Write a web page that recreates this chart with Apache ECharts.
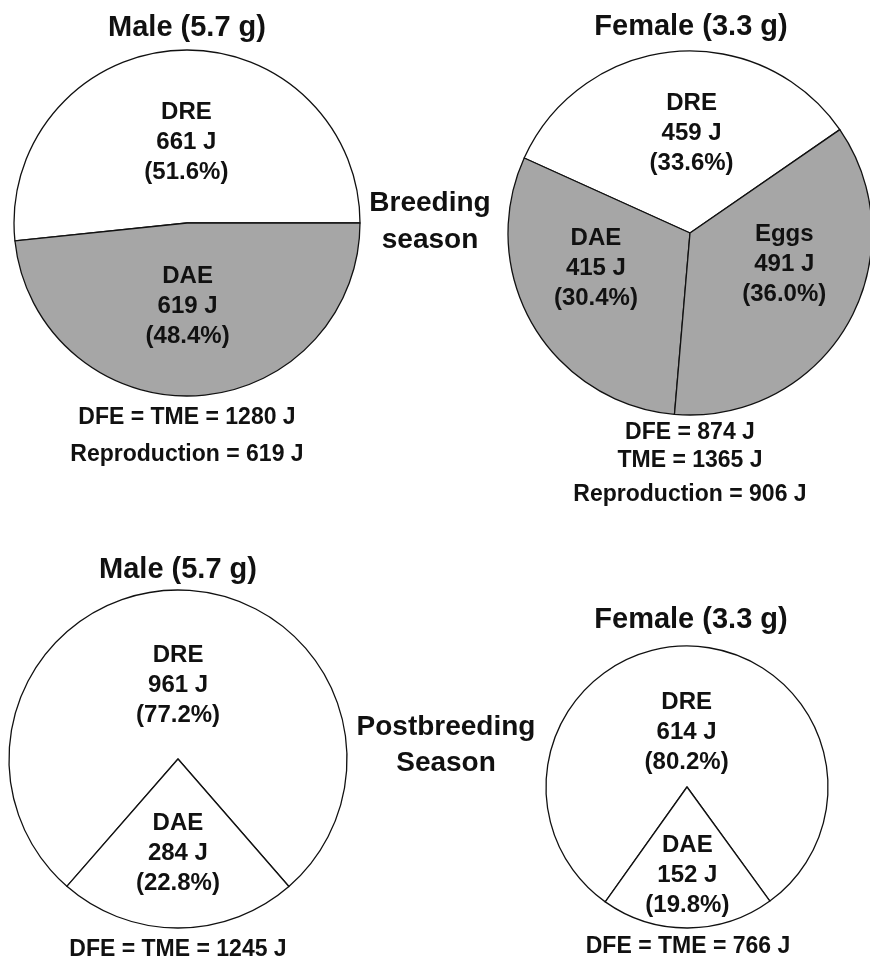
<!DOCTYPE html>
<html>
<head>
<meta charset="utf-8">
<style>
    html, body { margin: 0; padding: 0; background: #fff; }
    #chart { width: 870px; height: 959px; }
</style>
</head>
<body>
<div id="chart"></div>
<script src="https://cdn.jsdelivr.net/npm/echarts@6/dist/echarts.min.js"></script>
<script type="text/javascript">
    // energy budgets (J)
    const maleCats = ['DRE', 'DAE'];
    const femaleBreedCats = ['DRE', 'DAE', 'Eggs'];
    const maleBreeding = [661, 619];
    const femaleBreeding = [459, 415, 491];
    const malePost = [961, 284];
    const femalePost = [614, 152];

    const titles = ['Male (5.7 g)', 'Female (3.3 g)', 'Male (5.7 g)', 'Female (3.3 g)'];
    const maleBreedNotes = ['DFE = TME = 1280 J', 'Reproduction = 619 J'];
    const femaleBreedNotes = ['DFE = 874 J', 'TME = 1365 J', 'Reproduction = 906 J'];
    const malePostNotes = ['DFE = TME = 1245 J'];
    const femalePostNotes = ['DFE = TME = 766 J'];
    const seasonLabels = [['Breeding', 'season'], ['Postbreeding', 'Season']];

    const FONT = '"Liberation Sans", Arial, sans-serif';
    const GRAY = '#a6a6a6';

    const chart = echarts.init(document.getElementById('chart'), null, { renderer: 'canvas' });

    function pieSeries(cats, values, center, radius, startAngle, fills, nudges) {
        return {
            type: 'pie',
            center: center,
            radius: radius,
            startAngle: startAngle,
            clockwise: false,
            silent: true,
            animation: false,
            percentPrecision: 1,
            data: cats.map((c, i) => ({
                name: c,
                value: values[i],
                itemStyle: { color: fills[c] }
            })),
            itemStyle: { borderColor: '#111', borderWidth: 1.3 },
            label: {
                position: 'inside',
                fontFamily: FONT,
                fontWeight: 'bold',
                fontSize: 24,
                lineHeight: 30,
                color: '#111',
                formatter: p => p.name + '\n' + p.value + ' J\n(' + p.percent.toFixed(1) + '%)'
            },
            labelLine: { show: false },
            labelLayout: p => ({ dx: nudges[p.dataIndex][0], dy: nudges[p.dataIndex][1] })
        };
    }

    // lines of centred text, one y per line
    function textBlock(lines, x, ys, size) {
        return lines.map((t, i) => ({
            type: 'text',
            x: x,
            y: ys[i],
            style: {
                text: t,
                fill: '#111',
                font: 'bold ' + size + 'px ' + FONT,
                align: 'center',
                verticalAlign: 'middle'
            }
        }));
    }

    const breedFill = { DRE: '#ffffff', DAE: GRAY, Eggs: GRAY };
    const postFill = { DRE: '#ffffff', DAE: '#ffffff' };

    const graphics = []
        .concat(textBlock([titles[0]], 187, [28], 29))
        .concat(textBlock([titles[1]], 691, [27], 29))
        .concat(textBlock([titles[2]], 178, [570], 29))
        .concat(textBlock([titles[3]], 691, [620], 29))
        .concat(textBlock(maleBreedNotes, 187, [418, 455], 23))
        .concat(textBlock(femaleBreedNotes, 690, [433, 461, 495], 23))
        .concat(textBlock(malePostNotes, 178, [950], 23))
        .concat(textBlock(femalePostNotes, 688, [947], 23))
        .concat(textBlock(seasonLabels[0], 430, [203, 240], 28))
        .concat(textBlock(seasonLabels[1], 446, [727, 763], 28));

    chart.setOption({
        backgroundColor: '#ffffff',
        series: [
            pieSeries(maleCats, maleBreeding, [187, 223], 173, 0, breedFill, [[4, 9], [-4, -6]]),
            pieSeries(femaleBreedCats, femaleBreeding, [690, 233], 182, 34.6, breedFill, [[10, -6], [-13, -12], [13, -16]]),
            pieSeries(maleCats, malePost, [178, 759], 169, 311, postFill, [[0, 14], [0, 7]]),
            pieSeries(maleCats, femalePost, [687, 787], 141, 306, postFill, [[0, 19], [0, 15]])
        ],
        graphic: graphics
    });
</script>
</body>
</html>
